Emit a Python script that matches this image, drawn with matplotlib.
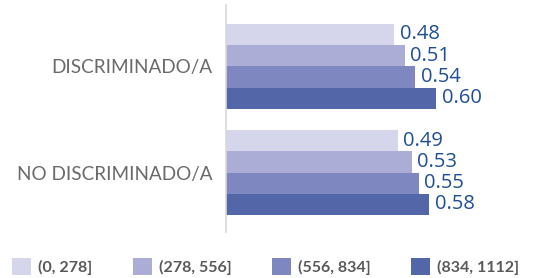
import matplotlib
matplotlib.use("Agg")
import matplotlib.pyplot as plt
from matplotlib.patches import Patch
import numpy as np

categories = ["DISCRIMINADO/A", "NO DISCRIMINADO/A"]
series = ["(0, 278]", "(278, 556]", "(556, 834]", "(834, 1112]"]
values = [
    [0.48, 0.49],
    [0.51, 0.53],
    [0.54, 0.55],
    [0.60, 0.58],
]
colors = ["#D5D6EB", "#ABADD6", "#7F87C0", "#5366A8"]

W, H = 559, 278
fig = plt.figure(figsize=(W / 100, H / 100), dpi=100)
ax = fig.add_axes([226 / W, 46 / H, (548 - 226) / W, 227 / H])

bh = 0.2
y = np.arange(len(categories))
for i, (s, vals, c) in enumerate(zip(series, values, colors)):
    pos = y - 0.3 + i * bh
    ax.barh(pos, vals, height=bh, color=c, label=s)
    for p, v in zip(pos, vals):
        ax.annotate(f"{v:.2f}", (v, p), xytext=(4, 0), textcoords="offset points",
                    ha="left", va="center", fontsize=14.5, color="#1F4E96",
                    family="Open Sans")

ax.set_xlim(0, (548 - 226) / 350)
ax.set_ylim(1.56, -0.577)
ax.set_yticks(y)
ax.set_yticklabels(categories, fontsize=13.6, color="#6A6A6A", family="Lato",
                   fontweight="normal")
ax.tick_params(axis="y", length=0, pad=10)
ax.set_xticks([])
for sp in ["top", "right", "bottom"]:
    ax.spines[sp].set_visible(False)
ax.spines["left"].set_color("#D9D9D9")
ax.spines["left"].set_linewidth(1.2)

handles = [Patch(facecolor=c, edgecolor="none") for c in colors]
leg = fig.legend(handles, series, loc="lower left", bbox_to_anchor=(12 / W, 3 / H),
                 ncol=4, frameon=False, handlelength=1.2, handleheight=1.2,
                 handletextpad=0.45, columnspacing=2.5, borderpad=0, borderaxespad=0,
                 prop={"family": "Lato", "weight": "bold", "size": 11.5})
for t in leg.get_texts():
    t.set_color("#595959")

fig.savefig("out.png", dpi=100)
